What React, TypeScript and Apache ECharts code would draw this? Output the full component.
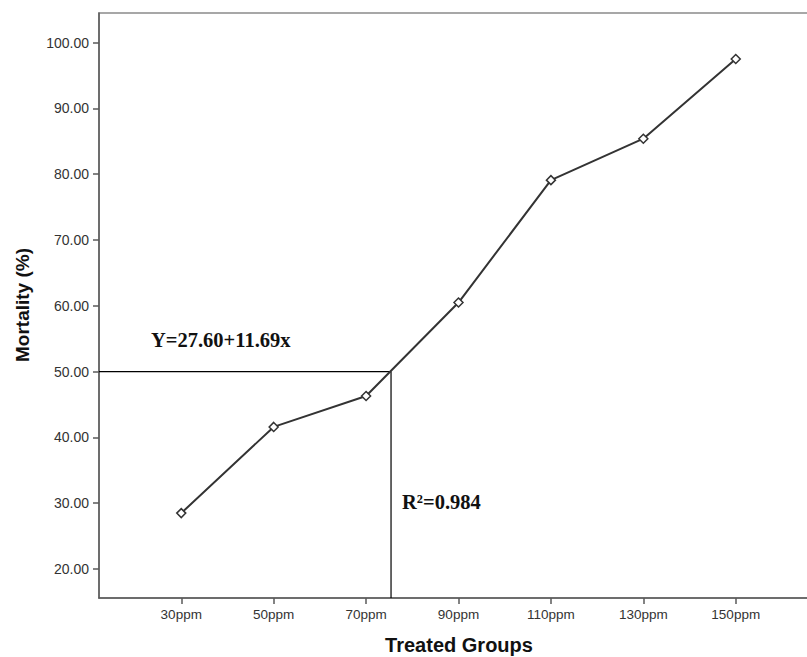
import React, { useEffect, useRef } from "react";
import * as echarts from "echarts";

const categories = ["30ppm", "50ppm", "70ppm", "90ppm", "110ppm", "130ppm", "150ppm"];
const mortality = [28.5, 41.6, 46.3, 60.5, 79.1, 85.4, 97.5];
const yTicks = [20, 30, 40, 50, 60, 70, 80, 90, 100];
const refPoint = [3.27, 50];
const equationText = "Y=27.60+11.69x";
const r2Text = "R²=0.984";

export default function App() {
  const ref = useRef<HTMLDivElement>(null);
  useEffect(() => {
    if (!ref.current) return;
    const chart = echarts.init(ref.current, undefined, { renderer: "svg" });
    const xMin = 0.11;
    const xMax = 7.89;
    const yMin = 15.6;
    const yMax = 104.5;
    const positions = categories.map((_, i) => i + 1);
    chart.setOption({
      animation: false,
      backgroundColor: "#ffffff",
      grid: {
        left: 99,
        top: 13,
        width: 719,
        height: 585,
        outerBoundsMode: "none",
        containLabel: false,
        show: true,
        borderColor: "#8a8a8a",
        borderWidth: 1.5,
        backgroundColor: "transparent",
      },
      xAxis: {
        type: "value",
        min: xMin,
        max: xMax,
        splitLine: { show: false },
        axisLine: { show: true, lineStyle: { color: "#5a5a5a", width: 1.5 } },
        axisTick: {
          show: true,
          customValues: positions,
          length: 6,
          lineStyle: { color: "#5a5a5a", width: 1.5 },
        },
        axisLabel: {
          customValues: positions,
          formatter: (v: number) => categories[Math.round(v) - 1] ?? "",
          color: "#333333",
          fontFamily: "Liberation Sans, Arial, sans-serif",
          fontSize: 13.5,
          margin: 9,
        },
      },
      yAxis: {
        type: "value",
        min: yMin,
        max: yMax,
        splitLine: { show: false },
        axisLine: { show: true, lineStyle: { color: "#5a5a5a", width: 1.5 } },
        axisTick: {
          show: true,
          customValues: yTicks,
          length: 6,
          lineStyle: { color: "#5a5a5a", width: 1.5 },
        },
        axisLabel: {
          customValues: yTicks,
          formatter: (v: number) => v.toFixed(2),
          color: "#333333",
          fontFamily: "Liberation Sans, Arial, sans-serif",
          fontSize: 14,
          margin: 10,
        },
      },
      series: [
        {
          type: "line",
          data: positions.map((p, i) => [p, mortality[i]]),
          symbol: "diamond",
          symbolSize: 9,
          lineStyle: { color: "#333333", width: 2 },
          itemStyle: { color: "#ffffff", borderColor: "#333333", borderWidth: 1.5 },
          z: 3,
        },
        {
          type: "line",
          data: [
            [xMin, refPoint[1]],
            [refPoint[0], refPoint[1]],
            [refPoint[0], yMin],
          ],
          symbol: "none",
          lineStyle: { color: "#000000", width: 1.2 },
          z: 2,
        },
      ],
      graphic: [
        {
          type: "text",
          left: 151,
          top: 329,
          style: {
            text: equationText,
            font: "bold 20.5px 'Liberation Serif', 'Times New Roman', serif",
            fill: "#111111",
          },
        },
        {
          type: "text",
          left: 402,
          top: 491,
          style: {
            text: r2Text,
            font: "bold 20.5px 'Liberation Serif', 'Times New Roman', serif",
            fill: "#111111",
          },
        },
        {
          type: "text",
          x: 22,
          y: 305,
          rotation: Math.PI / 2,
          style: {
            text: "Mortality (%)",
            font: "bold 19px 'Liberation Sans', Arial, sans-serif",
            fill: "#111111",
            align: "center",
            verticalAlign: "middle",
          },
        },
        {
          type: "text",
          x: 459,
          y: 645,
          style: {
            text: "Treated Groups",
            font: "bold 20px 'Liberation Sans', Arial, sans-serif",
            fill: "#111111",
            align: "center",
            verticalAlign: "middle",
          },
        },
      ],
    });
    return () => chart.dispose();
  }, []);
  return (
    <div
      ref={ref}
      style={{ position: "absolute", left: 0, top: 0, width: 807, height: 657, overflow: "hidden" }}
    />
  );
}
